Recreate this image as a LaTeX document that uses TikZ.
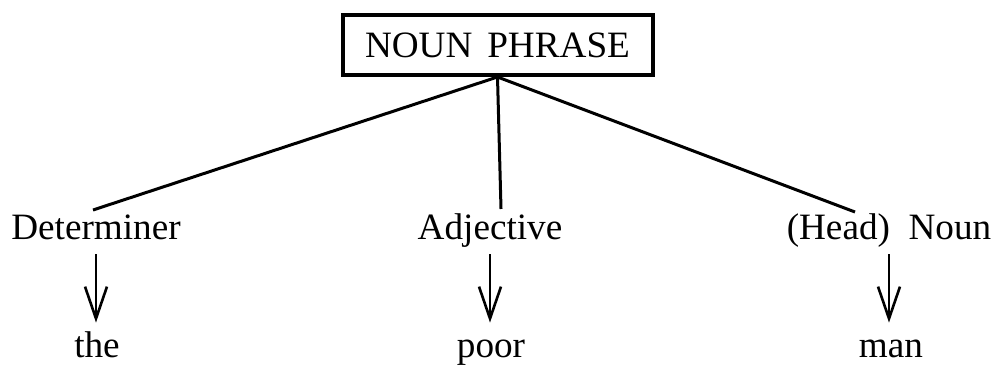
\documentclass[tikz,border=0pt]{standalone}
\usepackage{fontspec}
\setmainfont{Liberation Serif}
\usepackage{tikz}
\usetikzlibrary{arrows.meta}

\tikzset{
  word/.style={font=\fontsize{18.6}{22}\selectfont, inner sep=0pt, anchor=base, text height=12pt, text depth=0pt},
  branch/.style={line width=1.5pt},
  arr/.style={line width=1.3pt, -{Straight Barb[length=16pt,width=11pt]}, shorten <=7.5pt, shorten >=5pt}
}

\begin{document}
\begin{tikzpicture}[x=0.5pt,y=0.5pt]
\useasboundingbox (0,0) rectangle (994,364);
% phrase box
\node[draw, line width=2pt, minimum width=155pt, minimum height=30pt, inner sep=0pt,
      font=\fontsize{18.6}{22}\selectfont] (np) at (497.5,319) {NOUN\hspace{0.4em}PHRASE};

% word classes
\node[word] (det) at (96,125) {Determiner};
\node[word] (adj) at (490,125) {Adjective};
\node[word] (noun) at (889,125) {(Head)\ \ Noun};

% words
\node[word] (the) at (97,7) {the};
\node[word] (poor) at (491,7) {poor};
\node[word] (man) at (891,7) {man};

% branch ends
\coordinate (detTop) at (93,154);
\coordinate (adjTop) at (501,155);
\coordinate (nounTop) at (855,152);

\draw[branch] (np.south) -- (detTop);
\draw[branch] (np.south) -- (adjTop);
\draw[branch] (np.south) -- (nounTop);

\draw[arr] (det.south) -- (det.south |- the.north);
\draw[arr] (adj.south) -- (adj.south |- poor.north);
\draw[arr] (noun.south) -- (noun.south |- man.north);
\end{tikzpicture}
\end{document}
